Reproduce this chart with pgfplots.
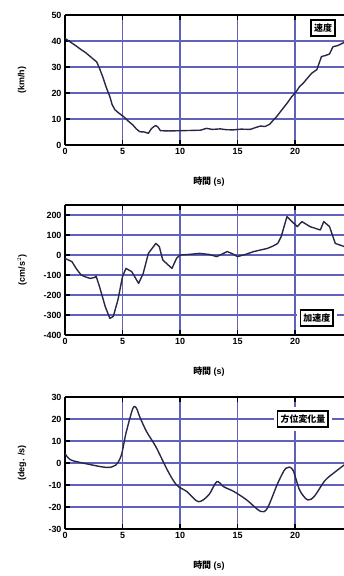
\documentclass[border=0pt]{standalone}
\usepackage{fontspec}
\setmainfont{Liberation Sans}
\newfontfamily\cjk{Noto Sans CJK JP}
\usepackage{pgfplots}
\pgfplotsset{compat=1.18}
\definecolor{gridblue}{RGB}{96,96,190}
\definecolor{curve}{RGB}{40,40,70}
\tikzset{
  boxlab/.style={draw=black, line width=1.8pt, fill=white, inner xsep=3pt, inner ysep=3.5pt,
    preaction={draw=white, line width=8pt}, font=\cjk\bfseries\small},
}
\pgfplotsset{
  myax/.style={
    scale only axis, width=279bp,
    xmin=0, xmax=24.26,
    xtick={0,5,10,15,20},
    separate axis lines,
    axis x line*=box, axis y line*=left,
    axis line style={line width=1.8pt, black},
    tick align=inside,
    major tick length=5bp,
    every tick/.style={black, line width=1.8pt},
    grid=major,
    grid style={gridblue, line width=1.2pt},
    /pgf/number format/assume math mode=true,
    tick label style={font=\bfseries\small},
    every axis x label/.style={at={(axis description cs:0.516,0)}, yshift=-37bp, anchor=center, font=\bfseries\small},
    every axis y label/.style={at={(axis description cs:-0.154,0.5)}, rotate=90, anchor=center, font=\bfseries\small},
    xlabel={{\cjk\bfseries 時間} (s)},
  },
}
\begin{document}
\begin{tikzpicture}
\useasboundingbox (0,0) rectangle (344bp,576bp);
% speed
\begin{axis}[myax, at={(65bp,431bp)}, anchor=south west, height=130bp,
  ymin=0, ymax=50, ytick={0,10,...,50}, ylabel={(km/h)}]
\addplot[curve, line width=1.4pt, line join=round] coordinates {
(0,41) (0.5,39.5) (1.0,38) (1.3,37) (1.8,35.5) (2.2,34) (2.75,32) (3.0,29.5) (3.3,26) (3.6,22) (3.9,18.6) (4.1,15.5) (4.35,13.5) (4.7,12.2) (5.1,10.9) (5.5,9.2) (5.9,7.7) (6.2,6.2) (6.5,5.1) (6.9,5.0) (7.25,4.5) (7.5,6.2) (7.7,7.0) (7.9,7.5) (8.1,6.8) (8.3,5.5) (9,5.4) (10,5.5) (11,5.6) (11.8,5.7) (12.3,6.4) (12.8,6.0) (13.5,6.2) (14,5.9) (14.6,5.8) (15.3,6.1) (16.1,6.0) (16.5,6.6) (17,7.3) (17.4,7.1) (17.8,8.0) (18.1,9.5) (18.4,10.9) (18.8,13.2) (19.3,16) (19.7,18.5) (20.1,20.5) (20.4,22.5) (20.7,23.7) (21.1,25.8) (21.45,27.6) (21.9,29) (22.1,31.5) (22.3,34) (22.7,34.5) (23,35) (23.3,37.8) (23.7,38.2) (24.3,39.5)
};
\node[boxlab] at (rel axis cs:0.925,0.9) {速度};
\end{axis}
% acceleration
\begin{axis}[myax, at={(65bp,241bp)}, anchor=south west, height=130bp,
  ymin=-400, ymax=250, ytick={-400,-300,...,200}, ylabel={(cm/s$^{2}$)}]
\addplot[curve, line width=1.4pt, line join=round] coordinates {
(0,-17) (0.6,-33) (1.0,-70) (1.4,-100) (1.8,-110) (2.2,-117) (2.6,-112) (2.7,-105) (3.0,-158) (3.5,-258) (3.9,-317) (4.2,-307) (4.6,-225) (5.0,-108) (5.3,-67) (5.8,-83) (6.4,-142) (6.8,-92) (7.25,8) (7.9,58) (8.2,42) (8.5,-25) (9.3,-67) (9.7,-17) (10,0) (10.8,3) (11.7,8) (12.5,3) (13.2,-8) (14.1,17) (14.5,8) (15,-8) (15.7,3) (16.4,17) (17,25) (17.6,33) (18.1,45) (18.5,58) (18.8,92) (19.3,192) (19.9,158) (20.2,142) (20.6,167) (21.3,142) (22.2,125) (22.5,167) (23,142) (23.5,58) (24.3,42)
};
\node[boxlab] at (rel axis cs:0.903,0.13) {加速度};
\end{axis}
% heading rate
\begin{axis}[myax, at={(65bp,47bp)}, anchor=south west, height=132bp,
  ymin=-30, ymax=30, ytick={-30,-20,...,30}, ylabel={(deg. /s)}]
\addplot[curve, line width=1.4pt, smooth, tension=0.5] coordinates {
(0,4.4) (0.5,1.4) (2,-0.5) (3.6,-2) (4.4,-1) (4.9,3.6) (5.3,13.5) (5.9,24.8) (6.2,25) (6.5,21) (7.1,14.2) (7.9,7.4) (8.9,-3.2) (9.7,-10) (10.6,-13) (11.6,-17.6) (12.5,-14.5) (13.2,-8.5) (13.8,-10.8) (14.7,-13) (15.8,-16.8) (17,-22) (17.6,-20.5) (18.5,-9.2) (19.2,-2.4) (19.8,-3) (20.4,-12.3) (21.1,-16.8) (21.7,-15) (22.6,-8) (23.5,-4) (24.3,-0.8)
};
\node[boxlab] at (rel axis cs:0.853,0.833) {方位変化量};
\end{axis}
\end{tikzpicture}
\end{document}
